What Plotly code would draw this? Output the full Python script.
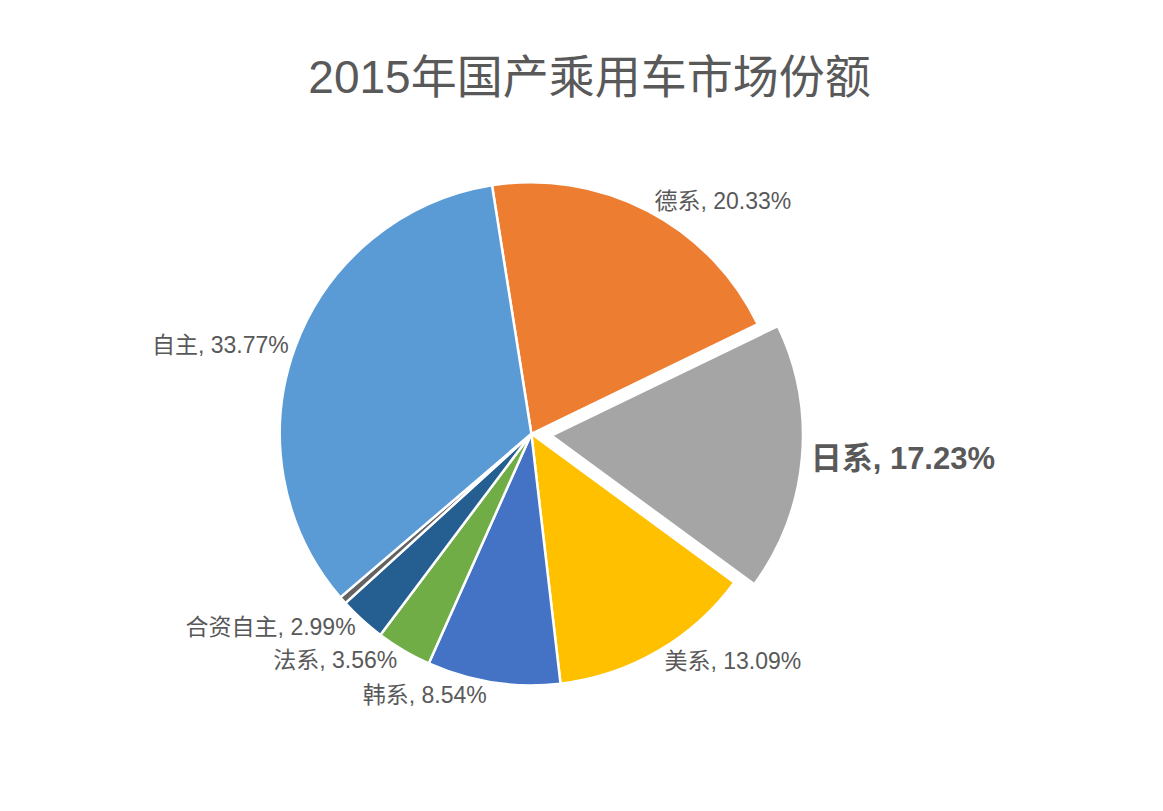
import plotly.graph_objects as go

labels = ["德系", "日系", "美系", "韩系", "法系", "合资自主", "其他", "自主"]
values = [20.33, 17.23, 13.09, 8.54, 3.56, 2.99, 0.49, 33.77]
colors = ["#ED7D31", "#A5A5A5", "#FFC000", "#4472C4", "#70AD47", "#255E91", "#636363", "#5B9BD5"]
pulls = [0, 0.08, 0, 0, 0, 0, 0, 0]
templates = ["%{label}, %{value:.2f}%", "<b>%{label}, %{value:.2f}%</b>", "%{label}, %{value:.2f}%",
             "%{label}, %{value:.2f}%", "%{label}, %{value:.2f}%", "%{label}, %{value:.2f}%", "",
             "%{label}, %{value:.2f}%"]
sizes = [23, 31, 23, 23, 23, 23, 23, 23]

fig = go.Figure(go.Pie(
    labels=labels, values=values, sort=False, direction="clockwise", rotation=-9,
    marker=dict(colors=colors, line=dict(color="white", width=2.5)),
    pull=pulls, texttemplate=templates, textposition="outside",
    textfont=dict(size=sizes, color="#595959", family="Liberation Sans, Noto Sans CJK SC"),
    showlegend=False, hoverinfo="label+value",
    domain=dict(x=[0.2, 0.7], y=[0.14, 0.81]),
))
fig.update_layout(
    width=1163, height=811, paper_bgcolor="white",
    margin=dict(l=0, r=0, t=0, b=0),
    title=dict(text="2015年国产乘用车市场份额", x=0.5, y=0.935, xanchor="center",
               font=dict(size=46, color="#595959", family="Liberation Sans, Noto Sans CJK SC")),
)
fig.write_html("out.html")
